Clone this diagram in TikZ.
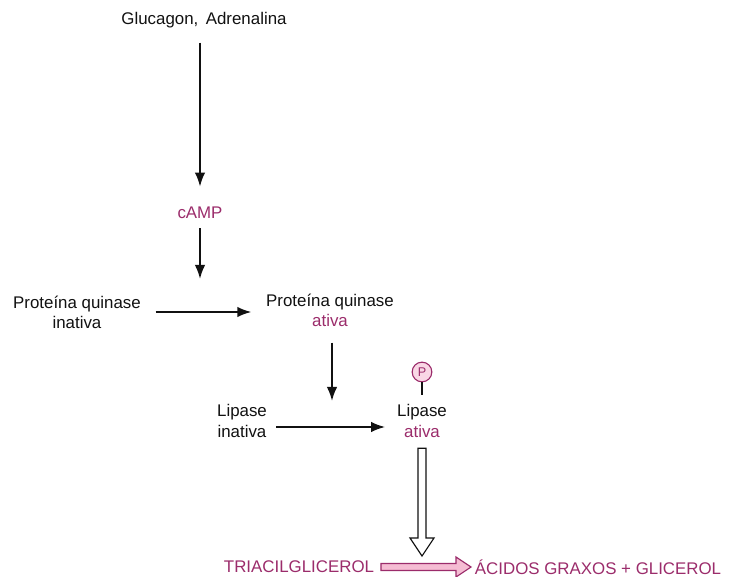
\documentclass[tikz,border=0pt]{standalone}
\usepackage{fontspec}
\setsansfont{Liberation Sans}
\usepackage{tikz}
\usetikzlibrary{arrows.meta,positioning,calc}
\definecolor{LipInk}{HTML}{111111}
\definecolor{LipMag}{HTML}{9B2C6B}
\definecolor{LipPink}{HTML}{F5BCD3}
\tikzset{
  liplabel/.style={font=\sffamily\fontsize{12}{14.4}\selectfont, text=LipInk, align=center},
  lipmag/.style={liplabel, text=LipMag},
  lipphos/.style={circle, draw=LipMag, fill=LipPink!60, line width=0.8pt, minimum size=14pt, inner sep=0pt, font=\sffamily\fontsize{9}{10}\selectfont, text=LipMag},
  liparrow/.style={-{Latex[length=10pt,width=7.5pt]}, line width=1.4pt, draw=LipInk},
  liphollow/.style={draw=LipInk, fill=white, line width=0.8pt, line join=miter},
  lippinkarrow/.style={draw=LipMag, fill=LipPink, line width=0.8pt, line join=miter}
}
\begin{document}
\begin{tikzpicture}[x=0.025cm, y=-0.025cm, every node/.style={liplabel}]
\useasboundingbox (0,0) rectangle (729,577);
\node (glu) at (204,20) {Glucagon,\, Adrenalina};
\node[lipmag] (camp) at (200,213) {cAMP};
\node (pki) at (77,312) {Proteína quinase\\inativa};
\node (pka) at (330,310) {Proteína quinase\\\textcolor{LipMag}{ativa}};
\node (lipi) at (242,421) {Lipase\\inativa};
\node (lipa) at (422,421) {Lipase\\\textcolor{LipMag}{ativa}};
\node[lipphos] (phos) at (422,372) {P};
\node[lipmag] (tg) at (299,567) {TRIACILGLICEROL};
\node[lipmag, anchor=west] (ag) at (470,567) {ÁCIDOS GRAXOS + GLICEROL};
\coordinate (k1) at (200,279);
\coordinate (k2) at (332,401);
\coordinate (vt) at ($(lipa.south)+(0,6)$);
\coordinate (vb) at (vt |- 0,556);
% signal cascade
\draw[liparrow, shorten <=7pt, shorten >=11pt] (camp.north |- glu.south) -- (camp.north);
\draw[liparrow, shorten <=3pt] (camp.south) -- (k1);
\draw[liparrow, shorten <=7pt, shorten >=7pt] (pki.east) -- (pki.east -| pka.west);
\draw[liparrow, shorten <=8pt] (k2 |- pka.south) -- (k2);
\draw[liparrow, shorten <=3pt, shorten >=5pt] ($(lipi.east)+(0,6)$) -- ($(lipa.west)+(0,6)$);
\draw[line width=1.1pt, draw=LipInk, shorten >=3.5pt] (phos.south) -- (lipa.north);
% hollow arrows
\draw[liphollow] ($(vt)+(-4,0)$) -- ($(vb)+(-4,-18)$) -- ($(vb)+(-12,-18)$) -- (vb)
  -- ($(vb)+(12,-18)$) -- ($(vb)+(4,-18)$) -- ($(vt)+(4,0)$) -- cycle;
\draw[lippinkarrow] ($(tg.east)+(2,-3.5)$) -- ($(ag.west)+(-14,-3.5)$) -- ($(ag.west)+(-14,-10)$)
  -- ($(ag.west)+(1,0)$) -- ($(ag.west)+(-14,10)$) -- ($(ag.west)+(-14,3.5)$) -- ($(tg.east)+(2,3.5)$) -- cycle;
\end{tikzpicture}
\end{document}
